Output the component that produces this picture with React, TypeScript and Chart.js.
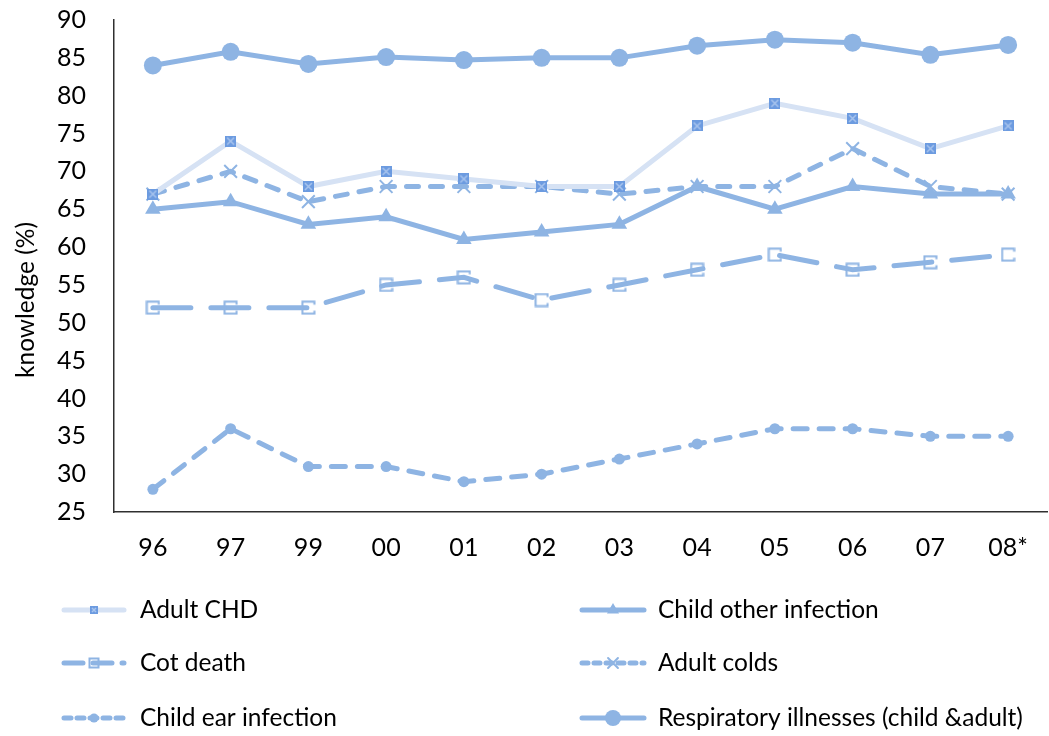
import React, { useEffect, useRef } from "react";
import { Chart, registerables } from "chart.js";
import * as helpers from "chart.js/helpers";

Chart.register(...registerables);

const years = ["96", "97", "99", "00", "01", "02", "03", "04", "05", "06", "07", "08*"];
const adultCHD = [67, 74, 68, 70, 69, 68, 68, 76, 79, 77, 73, 76];
const childOtherInfection = [65, 66, 63, 64, 61, 62, 63, 68, 65, 68, 67, 67];
const cotDeath = [52, 52, 52, 55, 56, 53, 55, 57, 59, 57, 58, 59];
const adultColds = [67, 70, 66, 68, 68, 68, 67, 68, 68, 73, 68, 67];
const childEarInfection = [28, 36, 31, 31, 29, 30, 32, 34, 36, 36, 35, 35];
const respiratory = [84, 85.8, 84.2, 85.1, 84.7, 85, 85, 86.6, 87.4, 87, 85.4, 86.7];

const FONT = "Lato";
const BLUE = "#8EB4E3";

function makeChdMarker(size: number) {
  const c = document.createElement("canvas");
  c.width = size;
  c.height = size;
  const g = c.getContext("2d")!;
  g.fillStyle = "#6C9BE0";
  g.fillRect(0, 0, size, size);
  g.strokeStyle = "#A9C5EE";
  g.lineWidth = 1.5;
  g.beginPath();
  g.moveTo(2, 2);
  g.lineTo(size - 2, size - 2);
  g.moveTo(size - 2, 2);
  g.lineTo(2, size - 2);
  g.stroke();
  return c;
}

function makeCotMarker(size: number) {
  const c = document.createElement("canvas");
  c.width = size;
  c.height = size;
  const g = c.getContext("2d")!;
  g.strokeStyle = BLUE;
  g.lineWidth = 2;
  const a = 1.5;
  const b = size - 1.5;
  g.beginPath();
  g.moveTo(b, a + 3);
  g.lineTo(b, a);
  g.lineTo(a, a);
  g.lineTo(a, b);
  g.lineTo(b, b);
  g.lineTo(b, b - 3);
  g.stroke();
  return c;
}

// invisible tick marks keep labels away from the axis without padding the chart area
const hiddenTicks = (length: number) => ({
  display: true,
  drawOnChartArea: false,
  drawTicks: true,
  tickLength: length,
  tickColor: "rgba(0,0,0,0)",
  color: "rgba(0,0,0,0)",
});

export default function App() {
  const ref = useRef<HTMLCanvasElement>(null);

  useEffect(() => {
    document.body.style.margin = "0";
    const chd = makeChdMarker(11);
    const chdSmall = makeChdMarker(8);
    const cot = makeCotMarker(15);
    const cotSmall = makeCotMarker(12);

    const legendRows = [610, 663, 718];
    const legendMarkers: any[] = [chdSmall, "triangle", cotSmall, "crossRot", "circle", "circle"];
    const legendRadius = [4, 7, 6, 7, 4.5, 8];

    const legendPlugin = {
      id: "gridLegend",
      afterDraw(chart: any) {
        const ctx = chart.ctx;
        chart.data.datasets.forEach((ds: any, i: number) => {
          const col = i % 2;
          const row = Math.floor(i / 2);
          const y = legendRows[row];
          const x0 = col ? 582 : 64;
          const x1 = col ? 644 : 124;
          const tx = col ? 658 : 140;
          ctx.save();
          ctx.strokeStyle = ds.borderColor;
          ctx.lineWidth = ds.borderWidth;
          ctx.lineCap = "round";
          ctx.setLineDash(ds.borderDash ? ds.borderDash.map((v: number) => v * 0.5) : []);
          ctx.beginPath();
          ctx.moveTo(x0, y);
          ctx.lineTo(x1, y);
          ctx.stroke();
          ctx.setLineDash([]);
          ctx.fillStyle = ds.backgroundColor;
          ctx.strokeStyle = ds.pointBorderColor || ds.borderColor;
          ctx.lineWidth = ds.pointBorderWidth || 0;
          helpers.drawPoint(
            ctx,
            {
              pointStyle: legendMarkers[i],
              radius: legendRadius[i],
              borderWidth: ds.pointBorderWidth,
              rotation: 0,
            },
            (x0 + x1) / 2,
            y
          );
          ctx.restore();
          ctx.save();
          ctx.fillStyle = "#000";
          ctx.font = `24.5px ${FONT}`;
          ctx.textBaseline = "middle";
          ctx.textAlign = "left";
          ctx.fillText(ds.label, tx, y);
          ctx.restore();
        });
        // vertical axis title
        ctx.save();
        ctx.translate(26, 300);
        ctx.rotate(-Math.PI / 2);
        ctx.fillStyle = "#000";
        ctx.font = `24.5px ${FONT}`;
        ctx.textAlign = "center";
        ctx.textBaseline = "middle";
        ctx.fillText("knowledge (%)", 0, 0);
        ctx.restore();
      },
    };

    const chart = new Chart(ref.current!, {
      type: "line",
      data: {
        labels: years,
        datasets: [
          {
            label: "Adult CHD",
            data: adultCHD,
            borderColor: "#D6E2F4",
            backgroundColor: "#6C9BE0",
            borderWidth: 5,
            pointStyle: chd as any,
            pointRadius: 5,
            pointBorderWidth: 0,
            borderCapStyle: "round",
          },
          {
            label: "Child other infection",
            data: childOtherInfection,
            borderColor: BLUE,
            backgroundColor: BLUE,
            borderWidth: 5,
            pointStyle: "triangle",
            pointRadius: 9,
            pointBorderWidth: 0,
            borderCapStyle: "round",
          },
          {
            label: "Cot death",
            data: cotDeath,
            borderColor: BLUE,
            backgroundColor: "transparent",
            borderWidth: 5,
            borderDash: [38, 20],
            pointStyle: cot as any,
            pointRadius: 7,
            pointBorderWidth: 0,
            borderCapStyle: "round",
          },
          {
            label: "Adult colds",
            data: adultColds,
            borderColor: BLUE,
            backgroundColor: BLUE,
            borderWidth: 5,
            borderDash: [12, 12],
            pointStyle: "crossRot",
            pointRadius: 9,
            pointBorderWidth: 2,
            pointBorderColor: BLUE,
            borderCapStyle: "round",
          },
          {
            label: "Child ear infection",
            data: childEarInfection,
            borderColor: BLUE,
            backgroundColor: BLUE,
            borderWidth: 5,
            borderDash: [14, 12],
            pointStyle: "circle",
            pointRadius: 5.5,
            pointBorderWidth: 0,
            borderCapStyle: "round",
          },
          {
            label: "Respiratory illnesses (child &adult)",
            data: respiratory,
            borderColor: BLUE,
            backgroundColor: BLUE,
            borderWidth: 5,
            pointStyle: "circle",
            pointRadius: 9,
            pointBorderWidth: 0,
            borderCapStyle: "round",
          },
        ],
      },
      options: {
        responsive: false,
        animation: false,
        events: [],
        layout: { autoPadding: false, padding: { top: 20, right: 2, bottom: 164, left: 0 } },
        plugins: {
          legend: { display: false },
          tooltip: { enabled: false },
        },
        scales: {
          x: {
            offset: true,
            grid: hiddenTicks(21),
            border: { color: "#303030", width: 1.5 },
            ticks: { color: "#000", font: { family: FONT, size: 25 }, padding: 0, maxRotation: 0 },
            afterFit: (s: any) => {
              s.height = 60;
              s.paddingLeft = 0;
              s.paddingRight = 0;
            },
          },
          y: {
            min: 25,
            max: 90,
            grid: hiddenTicks(28),
            border: { color: "#303030", width: 1.5 },
            ticks: { stepSize: 5, color: "#000", font: { family: FONT, size: 25 }, padding: 0 },
            afterFit: (s: any) => {
              s.width = 114;
              s.paddingLeft = 0;
              s.paddingRight = 0;
            },
          },
        },
      },
      plugins: [legendPlugin],
    });
    return () => chart.destroy();
  }, []);

  return (
    <div style={{ width: 1049, height: 736 }}>
      <canvas ref={ref} width={1049} height={736} />
    </div>
  );
}
